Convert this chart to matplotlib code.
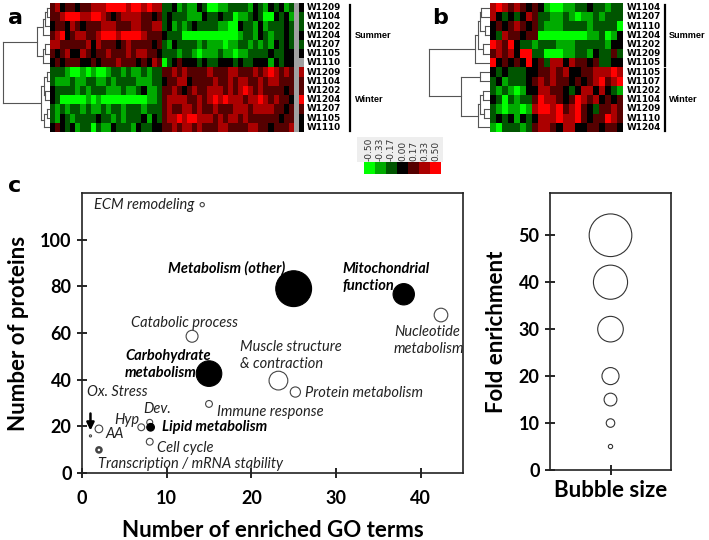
import numpy as np
import matplotlib
matplotlib.use("Agg")
import matplotlib.pyplot as plt
from matplotlib.colors import LinearSegmentedColormap
from matplotlib.patches import Rectangle

# ---------------- data ----------------
# heatmap levels: 0..6 -> -0.50 .. 0.50, '-' = missing
rows_a = ["W1209", "W1104", "W1202", "W1204", "W1207", "W1105", "W1110",
          "W1209", "W1104", "W1202", "W1204", "W1207", "W1105", "W1110"]
heat_a = [
    "4534434455566665665655" + "22312113200112222132132312" + "-3",
    "4456665566543455554434" + "23222111322322011232003231" + "-2",
    "3443543444555444554455" + "23121232222110032213122232" + "-2",
    "4563455445666566665444" + "32220000000000012213212232" + "-3",
    "5544444535444345444434" + "21322221211101122121213232" + "-2",
    "4345335434454445455443" + "22212210111211011222232233" + "-3",
    "3434443343444544434354" + "02343332322333232233313233" + "--",
    "2221001010012212112122" + "44545444454445544454565454" + "-5",
    "2111211221121222211122" + "34455344445445455445455444" + "-4",
    "3222212122211121123112" + "44543454455545456545444434" + "-4",
    "3200000101000000000112" + "45555445456565554556545443" + "-6",
    "2121221211212212221222" + "45445545445444555455554434" + "-4",
    "2132122223221212223132" + "45565665554545545444444344" + "-3",
    "3432312202113222132233" + "44545545444554444554434445" + "-3",
]
rows_b = ["W1104", "W1207", "W1110", "W1204", "W1202", "W1209", "W1105",
          "W1105", "W1107", "W1202", "W1104", "W1209", "W1110", "W1204"]
heat_b = [
    "5654543431001122322122",
    "5323235422112101121222",
    "3434543421112222122220",
    "3254434400000000112013",
    "6546322122211122222133",
    "4545366220001122132242",
    "6343436342553544342233",
    "3232223344545334455565",
    "2312223454544343456456",
    "2121013355443235535321",
    "3202122465543465453434",
    "2101101566564564324454",
    "2323132355565564344654",
    "1022212455435533443443",
]
# dendrogram merges (child a, child b, height)
dendro_a = [(0, 1, 0.06), (14, 2, 0.10), (15, 3, 0.15), (4, 5, 0.10), (17, 6, 0.15),
            (16, 18, 0.27), (7, 8, 0.06), (9, 10, 0.10), (20, 21, 0.13), (11, 12, 0.07),
            (23, 13, 0.12), (22, 24, 0.20), (19, 25, 1.0)]
dendro_b = [(0, 1, 0.14), (2, 3, 0.08), (14, 15, 0.17), (4, 5, 0.11), (16, 17, 0.20),
            (18, 6, 0.25), (7, 8, 0.17), (9, 10, 0.12), (11, 12, 0.10), (21, 22, 0.16),
            (23, 13, 0.20), (20, 24, 0.48), (19, 25, 1.0)]
cbar_labels = ["-0.50", "-0.33", "-0.17", "0.00", "0.17", "0.33", "0.50"]

# bubble chart
terms = ["ECM remodeling", "Metabolism (other)", "Mitochondrial function", "Nucleotide metabolism",
         "Catabolic process", "Carbohydrate metabolism", "Muscle structure & contraction",
         "Protein metabolism", "Immune response", "Dev.", "Lipid metabolism", "Hyp",
         "AA", "Ox. Stress", "Cell cycle", "Transcription / mRNA stability"]
go_terms = [14.2, 25, 38, 42.4, 13, 15, 23.2, 25.2, 15, 8, 8.1, 7, 2, 1, 8, 2]
n_proteins = [115, 79, 76.6, 67.7, 58.6, 42.6, 39.6, 34.7, 29.6, 21.7, 19.6, 19.6, 18.9, 15.9, 13.4, 9.9]
fold_enr = [5, 42, 25, 16, 14, 30, 22, 12, 8, 7, 9, 8, 9, 2.5, 8, 6]
filled = [False, True, True, False, False, True, False, False, False, False, True, False,
          False, False, False, False]
legend_sizes = [50, 40, 30, 20, 15, 10, 5]

# ---------------- figure ----------------
W, H = 709, 540
fig = plt.figure(figsize=(W / 100, H / 100), dpi=100)
FONT = "Lato"


def box(x0, y0, x1, y1):
    return [x0 / W, 1 - y1 / H, (x1 - x0) / W, (y1 - y0) / H]


cmap = LinearSegmentedColormap.from_list("gkr", ["#00ff00", "#000000", "#ff0000"])
cmap.set_bad("#a0a0a0")


def to_matrix(rows):
    m = np.array([[np.nan if c == "-" else (int(c) - 3) / 6.0 for c in r] for r in rows])
    return np.ma.masked_invalid(m)


def draw_dendro(ax, merges, n):
    ypos = {i: float(i) for i in range(n)}
    hts = {i: 0.0 for i in range(n)}
    for k, (a, b, h) in enumerate(merges):
        node = n + k
        kw = dict(color="#555555", lw=0.8)
        ax.plot([hts[a], h], [ypos[a], ypos[a]], **kw)
        ax.plot([hts[b], h], [ypos[b], ypos[b]], **kw)
        ax.plot([h, h], [ypos[a], ypos[b]], **kw)
        ypos[node] = (ypos[a] + ypos[b]) / 2
        hts[node] = h
    ax.set_xlim(1.02, 0)
    ax.set_ylim(n - 0.5, -0.5)
    ax.axis("off")


def heat_panel(heat, rows, dendro, hx0, hx1, dx0, lab_x, bar_x, grp_x, letter, letter_x):
    y0, y1 = 3, 132
    axh = fig.add_axes(box(hx0, y0, hx1, y1))
    axh.imshow(to_matrix(heat), cmap=cmap, vmin=-0.5, vmax=0.5, aspect="auto",
               interpolation="nearest")
    axh.axis("off")
    axd = fig.add_axes(box(dx0, y0, hx0, y1))
    draw_dendro(axd, dendro, len(rows))
    rh = (y1 - y0) / len(rows)
    for i, r in enumerate(rows):
        fig.text(lab_x / W, 1 - (y0 + rh * (i + 0.5)) / H, r, fontsize=6.4, fontweight="bold",
                 family="DejaVu Sans", va="center", ha="left")
    for g, name in enumerate(["Summer", "Winter"]):
        ya = y0 + rh * 7 * g + 1.5
        yb = y0 + rh * 7 * (g + 1) - 1.5
        fig.add_artist(plt.Line2D([bar_x / W, bar_x / W], [1 - ya / H, 1 - yb / H],
                                  color="black", lw=1.6))
        fig.text(grp_x / W, 1 - ((ya + yb) / 2) / H, name, fontsize=6.6, fontweight="bold",
                 family="Liberation Sans", va="center", ha="left")
    fig.text(letter_x / W, 1 - 18 / H, letter, fontsize=16, fontweight="bold",
             family="DejaVu Sans", va="center", ha="left")


heat_panel(heat_a, rows_a, dendro_a, 50, 304, 2, 307, 350, 355, "a", 8)
heat_panel(heat_b, rows_b, dendro_b, 490, 623, 428, 627, 665, 669, "b", 432)

# colour key
fig.add_artist(Rectangle((357 / W, 1 - 162 / H), (443 - 357) / W, (162 - 137) / H,
                         transform=fig.transFigure, facecolor="#eeeeee", edgecolor="none",
                         zorder=0))
axc = fig.add_axes(box(364, 162, 441, 174))
axc.imshow(np.linspace(-0.5, 0.5, len(cbar_labels))[None, :], cmap=cmap, vmin=-0.5, vmax=0.5,
           aspect="auto", interpolation="nearest")
axc.axis("off")
cw = (441 - 364) / len(cbar_labels)
for i, lab in enumerate(cbar_labels):
    fig.text((364 + cw * (i + 0.5)) / W, 1 - 161 / H, lab, rotation=90, fontsize=6.5,
             family="DejaVu Sans", ha="center", va="bottom", color="#333333")

fig.text(8 / W, 1 - 186 / H, "c", fontsize=16, fontweight="bold", family="DejaVu Sans",
         va="center", ha="left")

# ---------------- bubble chart ----------------
PX2PT = 0.72
SCALE = 0.853  # px of diameter per unit fold enrichment


def area(v):
    return (np.asarray(v) * SCALE * PX2PT) ** 2


ax = fig.add_axes(box(82, 193, 463, 473))
fc = ["black" if f else "white" for f in filled]
ec = ["black" if f else "#444444" for f in filled]
lw = [0.8] * len(terms)
lw[terms.index("Transcription / mRNA stability")] = 1.8
ax.scatter(go_terms, n_proteins, s=area(fold_enr), c=fc, edgecolors=ec, linewidths=lw, zorder=3)
ax.set_xlim(0, 45)
ax.set_ylim(0, 120)
ax.set_xticks([0, 10, 20, 30, 40])
ax.set_yticks([0, 20, 40, 60, 80, 100])
ax.tick_params(direction="inout", length=7, width=1.2, labelsize=13, pad=4)
for t in ax.get_xticklabels() + ax.get_yticklabels():
    t.set_fontweight("bold")
    t.set_family(FONT)
ax.tick_params(axis="x", pad=9)
for s in ax.spines.values():
    s.set_linewidth(1.2)
    s.set_color("#222222")
ax.set_xlabel("Number of enriched GO terms", fontsize=16, fontweight="bold", family=FONT,
              labelpad=9)
ax.set_ylabel("Number of proteins", fontsize=16, fontweight="bold", family=FONT, labelpad=8)

lab_kw = dict(fontsize=10.5, family=FONT, style="italic", va="center", ha="left",
              color="#222222")
bold_kw = dict(lab_kw, fontweight="bold", color="black")
ax.text(13.3, 114.9, "ECM remodeling", **dict(lab_kw, ha="right"))
ax.text(10.2, 87.9, "Metabolism (other)", **bold_kw)
ax.text(30.8, 87.4, "Mitochondrial", **bold_kw)
ax.text(30.8, 80.2, "function", **bold_kw)
ax.text(36.85, 60.6, "Nucleotide", **lab_kw)
ax.text(36.85, 53.1, "metabolism", **lab_kw)
ax.text(5.8, 64.4, "Catabolic process", **lab_kw)
ax.text(5.1, 50.3, "Carbohydrate", **bold_kw)
ax.text(5.1, 42.9, "metabolism", **bold_kw)
ax.text(18.7, 54.1, "Muscle structure", **lab_kw)
ax.text(18.7, 46.7, "& contraction", **lab_kw)
ax.text(26.3, 34.4, "Protein metabolism", **lab_kw)
ax.text(15.9, 26.0, "Immune response", **lab_kw)
ax.text(0.55, 34.6, "Ox. Stress", **lab_kw)
ax.text(7.2, 27.4, "Dev.", **lab_kw)
ax.text(3.8, 22.7, "Hyp", **lab_kw)
ax.text(2.8, 16.7, "AA", **lab_kw)
ax.text(9.5, 19.6, "Lipid metabolism", **bold_kw)
ax.text(8.9, 10.8, "Cell cycle", **lab_kw)
ax.text(1.9, 3.7, "Transcription / mRNA stability", **lab_kw)
ax.annotate("", xy=(1.0, 18.2), xytext=(1.0, 25.5),
            arrowprops=dict(arrowstyle="-|>,head_width=0.22,head_length=0.45",
                            color="black", lw=1.8, shrinkA=0, shrinkB=0))

# ---------------- bubble size key ----------------
ax2 = fig.add_axes(box(550, 193, 671, 470))
ax2.scatter([0] * len(legend_sizes), legend_sizes, s=area(legend_sizes), facecolors="white",
            edgecolors="#333333", linewidths=0.8, zorder=3)
ax2.set_xlim(-1, 1)
ax2.set_ylim(0, 59)
ax2.set_xticks([0])
ax2.set_xticklabels([""])
ax2.set_yticks([0, 10, 20, 30, 40, 50])
ax2.tick_params(direction="inout", length=7, width=1.2, labelsize=13, pad=4)
for t in ax2.get_yticklabels():
    t.set_fontweight("bold")
    t.set_family(FONT)
for s in ax2.spines.values():
    s.set_linewidth(1.2)
    s.set_color("#222222")
ax2.set_xlabel("Bubble size", fontsize=16, fontweight="bold", family=FONT, labelpad=0)
ax2.set_ylabel("Fold enrichment", fontsize=16, fontweight="bold", family=FONT, labelpad=8)

fig.savefig("out.png", dpi=100)
